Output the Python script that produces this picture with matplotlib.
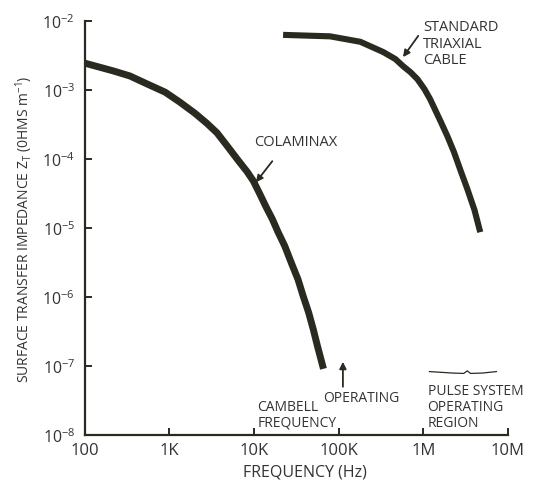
import numpy as np
import matplotlib
matplotlib.use("Agg")
import matplotlib.pyplot as plt
from matplotlib.ticker import FixedLocator, FixedFormatter, NullLocator

# curve data (frequency in Hz, impedance in ohms/m)
colaminax_f = [100, 214, 340, 540, 890, 1320, 2000, 2760, 3640, 4800, 6300, 8300, 9800,
               11700, 13900, 16400, 19200, 23000, 27600, 33000, 38000, 44000, 50000, 56000, 66000]
colaminax_z = [2.45e-3, 1.9e-3, 1.6e-3, 1.23e-3, 9.3e-4, 6.7e-4, 4.6e-4, 3.3e-4, 2.4e-4, 1.55e-4,
               1.0e-4, 6.5e-5, 4.8e-5, 3.1e-5, 2.0e-5, 1.35e-5, 8.7e-6, 5.5e-6, 3.1e-6, 1.8e-6,
               1.03e-6, 6.0e-7, 3.4e-7, 1.95e-7, 9.1e-8]

triax_f = [22000, 79000, 180000, 336000, 467000, 580000, 702000, 850000, 1.03e6, 1.2e6,
           1.6e6, 1.92e6, 2.3e6, 2.74e6, 3.3e6, 4.02e6, 4.7e6]
triax_z = [6.3e-3, 6.0e-3, 5.0e-3, 3.55e-3, 2.81e-3, 2.2e-3, 1.82e-3, 1.44e-3, 1.03e-3, 7.4e-4,
           3.5e-4, 2.15e-4, 1.26e-4, 6.9e-5, 3.7e-5, 1.82e-5, 8.7e-6]

x_ticks = [1e2, 1e3, 1e4, 1e5, 1e6, 1e7]
x_labels = ["100", "1K", "10K", "100K", "1M", "10M"]
y_exps = [-8, -7, -6, -5, -4, -3, -2]

INK = "#2b2a20"
TXT = "#333333"

plt.rcParams['font.family'] = ['Open Sans', 'DejaVu Sans']
plt.rcParams['mathtext.fontset'] = 'custom'
plt.rcParams['mathtext.rm'] = 'Open Sans'
plt.rcParams['mathtext.it'] = 'Open Sans'

fig = plt.figure(figsize=(5.37, 4.81), dpi=100)
ax = fig.add_axes([0.158, 0.0936, 0.788, 0.8606])

ax.plot(colaminax_f, colaminax_z, color=INK, lw=5.0, solid_capstyle='butt', solid_joinstyle='round')
ax.plot(triax_f, triax_z, color=INK, lw=4.4, solid_capstyle='butt', solid_joinstyle='round')

ax.set_xscale('log')
ax.set_yscale('log')
ax.set_xlim(1e2, 1e7)
ax.set_ylim(1e-8, 1e-2)

ax.xaxis.set_major_locator(FixedLocator(x_ticks))
ax.xaxis.set_major_formatter(FixedFormatter(x_labels))
ax.xaxis.set_minor_locator(NullLocator())
ax.yaxis.set_major_locator(FixedLocator([10.0 ** e for e in y_exps]))
ax.yaxis.set_major_formatter(FixedFormatter(
    ["10$^{\\mathregular{%d}}$" % e for e in y_exps]))
ax.yaxis.set_minor_locator(NullLocator())

for s in ['top', 'right']:
    ax.spines[s].set_visible(False)
for s in ['left', 'bottom']:
    ax.spines[s].set_linewidth(1.6)
    ax.spines[s].set_color(INK)
ax.tick_params(direction='in', length=5, width=1.4, color=INK,
               labelsize=12, labelcolor=TXT, pad=5)
ax.tick_params(axis='y', pad=7, labelsize=11.5)

ax.set_xlabel("FREQUENCY (Hz)", fontsize=11.5, color=TXT)
ax.xaxis.set_label_coords(0.52, -0.07)
ax.set_ylabel("SURFACE TRANSFER IMPEDANCE Z$_\\mathregular{T}$ (0HMS m$^{\\mathregular{-1}}$)",
              fontsize=10, color=TXT, labelpad=5)

arrow = dict(arrowstyle='-|>', color=INK, lw=1.3, mutation_scale=10, shrinkA=0, shrinkB=0)
ax.annotate("", xy=(10500, 4.6e-5), xytext=(16400, 9.3e-5), arrowprops=arrow)
ax.text(31000, 1.8e-4, "COLAMINAX", fontsize=10.5, color=TXT, ha='center', va='center')

ax.annotate("", xy=(5.75e5, 3.0e-3), xytext=(8.7e5, 6.1e-3), arrowprops=arrow)
ax.text(1.0e6, 4.8e-3, "STANDARD\nTRIAXIAL\nCABLE", fontsize=10.5, color=TXT,
        ha='left', va='center', linespacing=1.17, clip_on=False)

ax.annotate("", xy=(1.12e5, 1.15e-7), xytext=(1.12e5, 5.0e-8), arrowprops=arrow)
ax.text(66000, 3.5e-8, "OPERATING", fontsize=10, color=TXT, ha='left', va='center')
ax.text(11000, 2.0e-8, "CAMBELL\nFREQUENCY", fontsize=10, color=TXT,
        ha='left', va='center', linespacing=1.08)
ax.text(1.12e6, 2.6e-8, "PULSE SYSTEM\nOPERATING\nREGION", fontsize=10, color=TXT,
        ha='left', va='center', linespacing=1.08)

# little brace over the pulse region
brace_f = [1.18e6, 2.2e6, 3.0e6, 3.3e6, 3.6e6, 5.0e6, 7.3e6]
brace_z = [8.3e-8, 7.9e-8, 7.8e-8, 8.5e-8, 7.8e-8, 7.9e-8, 8.3e-8]
ax.plot(brace_f, brace_z, color=INK, lw=0.9)

fig.savefig("out.png", dpi=100)
